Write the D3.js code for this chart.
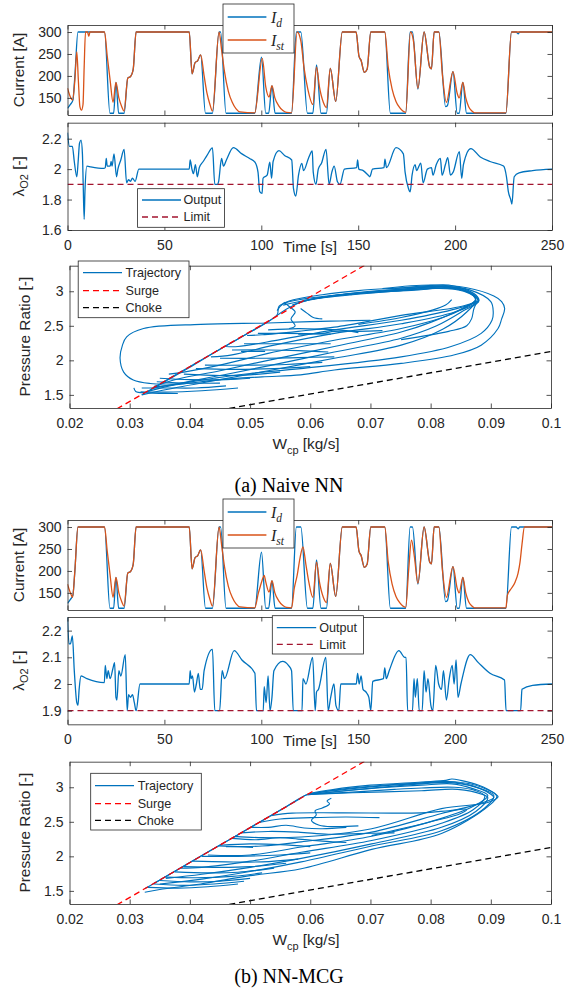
<!DOCTYPE html>
<html><head><meta charset="utf-8">
<script src="https://cdn.jsdelivr.net/npm/d3@7"></script>
<style>body{margin:0;background:#fff}</style>
</head><body><script>
// ---------------- DATA ----------------
const timeTicks = [0, 50, 100, 150, 200, 250];
const currentTicks = [150, 200, 250, 300];
const lambdaTicksA = [1.6, 1.8, 2, 2.2];
const lambdaTicksB = [1.9, 2, 2.1, 2.2];
const wcpTicks = [0.02, 0.03, 0.04, 0.05, 0.06, 0.07, 0.08, 0.09, 0.1];
const prTicks = [1.5, 2, 2.5, 3];
const lambdaLimit = 1.9;

const IdA = [[0,126],[1.5,135],[2.8,145],[3.8,200],[5.4,300],[19.1,300],[21.9,115],[23.8,115],[25,185],[26.4,115],[29.2,115],[31.1,195],[32.4,198],[33.9,215],[35.4,300],[62.8,300],[64.3,205],[65.8,230],[67.2,235],[68.7,248],[71.2,115],[74.8,115],[78.2,300],[79,300],[81.8,115],[96.6,115],[100.1,243],[102.3,115],[103.8,115],[105.5,178],[107.1,115],[115.6,115],[118.1,300],[120.4,300],[123.8,115],[126.6,115],[128.5,225],[130.8,115],[133.6,115],[135.6,217],[138.4,142],[141.8,300],[148.9,300],[150.4,245],[151.5,235],[153.2,208],[154.6,215],[156.5,300],[163.7,300],[166.6,115],[174.5,115],[176.8,300],[178,300],[180.8,170],[184,300],[186.9,220],[187.8,216],[189.2,300],[191.6,300],[195.1,130],[196,132],[198.9,210],[201.1,115],[202.1,115],[204,185],[205.9,115],[226.2,115],[229.1,300],[231.5,300],[232.5,296],[233.4,300],[250,300]];
const IstA = [[0,172],[1.5,152],[2.6,145],[3.8,190],[4.8,255],[5.6,190],[6.4,130],[7.2,122],[8,135],[8.6,220],[9.3,300],[10.3,300],[11,290],[11.6,300],[19.1,300],[20.5,245],[22,190],[23.5,140],[25,185],[26.5,150],[28,130],[29.2,120],[31.1,195],[32.4,198],[33.9,215],[35.4,300],[62.8,300],[64.3,205],[65.8,230],[67.2,235],[68.7,248],[70.5,200],[72,160],[73.5,135],[74.8,120],[78.2,300],[79.5,260],[81,210],[83,165],[85,140],[87,125],[89,118],[96.6,116],[100.5,240],[102.3,175],[104,152],[105.5,178],[107,150],[109,132],[111,122],[113,117],[115.6,116],[118.5,300],[120.4,280],[122,220],[124,170],[126.6,135],[128.5,220],[130,175],[132,140],[133.6,128],[135.6,217],[138.4,142],[141.8,300],[148.9,300],[150.4,245],[151.5,235],[153.2,208],[154.6,215],[156.5,300],[163.7,300],[165.5,220],[167.5,170],[169.5,142],[171.5,127],[174.5,117],[177,300],[178.5,280],[180.8,172],[184,300],[186.9,220],[187.8,216],[189.2,300],[191.6,300],[193.5,200],[195.5,140],[198.9,210],[201.1,160],[202.1,150],[204,185],[205.5,150],[207,130],[208.7,120],[210,116],[226.2,116],[229.1,300],[250,300]];

const IdB = [[0,126],[1.5,135],[2.8,145],[3.8,200],[5.4,300],[19.1,300],[21.9,115],[23.8,115],[25,185],[26.4,115],[29.2,115],[31.1,195],[32.4,198],[33.9,215],[35.4,300],[62.8,300],[64.3,205],[65.8,230],[67.2,235],[68.7,248],[71.2,115],[74.8,115],[78.2,300],[79,300],[81.8,115],[96.6,115],[100.1,243],[102.3,115],[103.8,115],[105.5,178],[107.1,115],[115.6,115],[118.1,300],[120.4,300],[123.8,115],[126.6,115],[128.5,225],[130.8,115],[133.6,115],[135.6,217],[138.4,142],[141.8,300],[148.9,300],[150.4,245],[151.5,235],[153.2,208],[154.6,215],[156.5,300],[163.7,300],[166.6,115],[174.5,115],[176.8,300],[178,300],[180.8,170],[184,300],[186.9,220],[187.8,216],[189.2,300],[191.6,300],[195.1,130],[196,132],[198.9,210],[201.1,115],[202.1,115],[204,185],[205.9,115],[226.2,115],[229.1,300],[231.5,300],[232.5,296],[233.4,300],[250,300]];
const IstB = [[0,170],[1.5,150],[2.6,140],[3.8,200],[5.4,300],[19.1,300],[20.5,245],[22,190],[23.5,140],[25,185],[26.5,150],[28,130],[29.2,120],[31.1,195],[32.4,198],[33.9,215],[35.4,300],[62.8,300],[64.3,205],[65.8,230],[67.2,235],[68.7,248],[70.5,200],[72,160],[73.5,135],[74.8,120],[78.2,300],[79.5,260],[81,210],[83,165],[85,140],[87,125],[89,118],[96.6,116],[98.5,150],[99.5,165],[100.5,180],[101.5,190],[102.3,175],[104,152],[105.5,178],[107,150],[109,132],[111,122],[113,117],[115.6,116],[117,160],[118.5,190],[120,230],[121.5,255],[123,215],[124.5,175],[126.6,140],[128.5,220],[130,175],[132,140],[133.6,128],[135.6,217],[138.4,142],[141.8,300],[148.9,300],[150.4,245],[151.5,235],[153.2,208],[154.6,215],[156.5,300],[163.7,300],[165.5,220],[167.5,170],[169.5,142],[171.5,127],[174.5,117],[176,200],[177.5,270],[179,232],[180.8,172],[184,300],[186.9,220],[187.8,216],[189.2,300],[191.6,300],[193.5,200],[195.5,140],[198.9,210],[201.1,160],[202.1,150],[204,185],[205.5,150],[207,130],[208.7,120],[210,116],[226.2,116],[227,145],[229,160],[231,175],[232.5,195],[233.5,220],[234.5,260],[235.8,300],[250,300]];

const lambdaA = [[0,2.24],[1,2.15],[2.5,2.15],[3.5,2.05],[4.8,1.95],[5.5,2.05],[6.2,2.17],[7,2.19],[7.7,2.1],[8.1,1.9],[8.6,1.67],[9,1.85],[10,2.02],[12,2.015],[18.7,2.005],[19.5,2.01],[20,2.07],[20.5,2.02],[22,2.02],[22.5,2.05],[23,2.02],[24,2.1],[25.3,1.95],[26,2.0],[27.5,2.06],[29.2,2.13],[30.5,1.91],[31.5,1.93],[32.5,1.92],[33.5,1.94],[34.9,1.92],[36.8,2.0],[62.8,2.0],[63.3,2.06],[64.2,2.0],[65,1.97],[66,2.03],[67,1.95],[68,2.01],[70,2.05],[72,2.09],[74.8,2.14],[76,1.9],[77.5,1.9],[78,1.92],[79.5,2.07],[80.5,2.02],[82,2.06],[85.6,2.141],[90,2.1],[94,2.07],[96.8,2.045],[98.3,1.98],[99.2,1.852],[100.4,1.84],[100.9,1.94],[103,1.96],[104.4,2.045],[105.3,1.94],[106.1,2.05],[109.1,2.121],[112,2.09],[115.7,2.06],[116.6,1.874],[117.8,1.823],[119.2,1.96],[120.9,2.038],[121.8,1.99],[124.3,2.07],[126.3,2.119],[126.8,1.98],[128.2,1.9],[129.4,2.0],[131.1,2.04],[133.4,2.13],[135,1.9],[136.4,1.98],[137.6,2.02],[139.3,1.917],[140.6,1.9],[142.9,2.0],[149.2,2.01],[149.7,2.06],[150.3,2.0],[152.6,1.99],[155.2,1.96],[156,1.95],[157.4,2.0],[163.3,2.01],[163.8,2.065],[164.6,2.01],[169.5,2.141],[173.3,2.1],[174.2,1.98],[175.9,1.874],[176.8,1.85],[177.8,1.96],[179.4,2.03],[180.1,1.99],[182.3,2.04],[183.5,1.91],[185.7,2.0],[187.8,2.01],[188.6,1.96],[190.3,2.03],[192.4,2.07],[193.3,1.96],[195,2.03],[196.2,2.075],[197.6,1.96],[199,1.98],[202.2,2.115],[203.4,1.94],[204.3,2.03],[208.1,2.135],[213,2.08],[218,2.05],[225,2.02],[226.5,1.95],[227.5,1.85],[228.7,1.8],[229.3,1.77],[230.5,1.95],[233,1.975],[240,1.99],[250,2.0]];
const lambdaB = [[0,2.25],[0.8,2.15],[1.5,2.15],[2.5,2.18],[3.5,2.05],[4.8,1.93],[5.4,1.92],[6,1.98],[7,2.03],[10,2.02],[19,2.005],[19.5,2.07],[20.3,2.02],[21,2.05],[22,2.02],[23.5,2.06],[24.3,2.08],[25,1.95],[25.5,1.94],[26.5,2.05],[27.5,2.03],[29.8,2.11],[30.8,1.9],[31.5,1.96],[32.5,1.95],[33.5,1.96],[34.5,1.93],[35.4,1.9],[37.4,2.0],[62.8,2.0],[63.3,2.05],[63.8,2.02],[64.5,2.03],[65.5,1.97],[66.5,2.0],[67.5,2.04],[68.5,1.98],[69.5,1.98],[70.5,2.05],[74.8,2.13],[76,1.9],[78.5,1.9],[79.8,2.05],[81,2.02],[86,2.125],[90,2.09],[96.7,2.04],[97.5,1.9],[101,1.9],[101.5,1.99],[102.5,1.93],[103.5,2.03],[104.5,1.9],[105.5,1.95],[106.5,2.05],[111,2.085],[114,2.07],[115.6,2.05],[116.5,1.9],[121,1.9],[121.5,2.02],[123,2.0],[126.5,2.1],[127.8,1.9],[128.5,1.97],[129.5,1.98],[133.3,2.1],[134.5,1.9],[135.8,1.95],[137.5,2.0],[138.5,1.92],[140,1.9],[141,2.0],[149,2.0],[149.7,2.04],[150.5,2.0],[151.5,2.03],[152.5,1.98],[154,1.97],[155.5,1.95],[156.5,1.9],[157.5,2.01],[163,2.02],[163.7,2.06],[164.5,2.02],[166,2.05],[171,2.125],[174,2.1],[174.7,2.1],[175.5,1.9],[178,1.9],[178.8,2.02],[179.5,1.95],[180.5,2.02],[181.5,1.9],[183,1.9],[184,2.05],[185,1.97],[186,2.02],[187.5,1.92],[188.5,1.9],[190,2.07],[191.5,2.0],[193,1.98],[194,2.05],[195.5,1.94],[197,2.02],[198.5,2.07],[199.5,2.0],[200.5,2.09],[201.5,1.95],[203,2.0],[207.8,2.11],[212,2.08],[218,2.04],[225.5,2.015],[226.3,1.9],[233.8,1.9],[234.5,1.98],[240,1.995],[250,2.0]];

// surge / choke lines (W [kg/s], pressure ratio)
const surgeLine = [[0.025,1.1525],[0.072,3.526]];
const chokeLine = [[0.04,1.204],[0.1,2.128]];

// compressor trajectory, naive NN: main cycles (ascent, top arc, return)
const trajA_cycles = [
 [[0.032,1.5],[0.036,1.7],[0.04,1.9],[0.044,2.11],[0.048,2.31],[0.052,2.51],[0.0545,2.66],[0.0548,2.78],[0.0565,2.86],[0.062,2.95],[0.068,3.01],[0.075,3.05],[0.083,3.09],[0.086,3.02],[0.0878,2.92],[0.088,2.87],[0.085,2.78],[0.0751,2.65],[0.064,2.48],[0.058,2.42],[0.052,2.37],[0.0495,2.36]],
 [[0.033,1.55],[0.037,1.76],[0.041,1.96],[0.045,2.16],[0.049,2.36],[0.053,2.56],[0.056,2.74],[0.059,2.86],[0.064,2.94],[0.07,3.0],[0.077,3.04],[0.0825,3.07],[0.086,3.0],[0.0875,2.9],[0.087,2.83],[0.0835,2.73],[0.0751,2.58],[0.064,2.44],[0.055,2.3],[0.048,2.2],[0.046,2.2]],
 [[0.0545,2.72],[0.0555,2.82],[0.059,2.89],[0.065,2.95],[0.072,3.0],[0.08,3.04],[0.0845,3.03],[0.0875,2.93],[0.088,2.86],[0.084,2.7],[0.0751,2.53],[0.064,2.39],[0.054,2.22],[0.047,2.08],[0.0435,2.05]],
 [[0.057,2.8],[0.061,2.9],[0.068,2.97],[0.076,3.02],[0.083,3.06],[0.0865,2.98],[0.0878,2.88],[0.0855,2.75],[0.082,2.62],[0.0751,2.46],[0.064,2.29],[0.053,2.1],[0.045,1.93],[0.039,1.83],[0.0365,1.8]],
 [[0.058,2.84],[0.063,2.92],[0.07,2.98],[0.078,3.02],[0.083,3.05],[0.0868,2.96],[0.0875,2.88],[0.085,2.74],[0.08,2.55],[0.0751,2.41],[0.064,2.2],[0.053,2.0],[0.045,1.85],[0.038,1.73],[0.034,1.62]],
 [[0.0555,2.8],[0.06,2.88],[0.067,2.95],[0.074,3.0],[0.081,3.04],[0.0855,3.0],[0.088,2.86],[0.0855,2.72],[0.081,2.5],[0.0751,2.32],[0.064,2.12],[0.053,1.92],[0.045,1.78],[0.038,1.66],[0.033,1.55]],
 [[0.059,2.87],[0.066,2.96],[0.074,3.02],[0.082,3.07],[0.086,3.0],[0.0875,2.87],[0.086,2.7],[0.082,2.45],[0.0751,2.22],[0.064,2.03],[0.053,1.85],[0.045,1.72],[0.038,1.61],[0.032,1.5]],
 [[0.074,3.04],[0.082,3.07],[0.0865,3.02],[0.09,2.85],[0.0904,2.7],[0.0902,2.58],[0.0884,2.39],[0.0834,2.2],[0.0751,2.05],[0.0584,1.88],[0.05,1.81],[0.044,1.74],[0.038,1.66],[0.034,1.6]],
 [[0.072,3.04],[0.08,3.09],[0.086,3.05],[0.0905,2.93],[0.0918,2.85],[0.0923,2.75],[0.0918,2.6],[0.0912,2.46],[0.0884,2.22],[0.084,2.08],[0.0751,1.955],[0.064,1.86],[0.0584,1.79],[0.052,1.76],[0.045,1.72],[0.039,1.66],[0.0345,1.62]],
 [[0.038,1.66],[0.0334,1.665],[0.0306,1.715],[0.029,1.83],[0.0284,2.03],[0.0288,2.22],[0.0295,2.34],[0.0323,2.46],[0.0418,2.52],[0.0529,2.54],[0.06,2.56],[0.065,2.57],[0.07,2.58]]
];
// naive NN: inner excursions
const trajA_inner = [
 [[0.0878,2.86],[0.0872,2.75],[0.0868,2.6],[0.086,2.5],[0.083,2.42],[0.0751,2.3]],
 [[0.0835,2.88],[0.0825,2.8],[0.08,2.72],[0.0751,2.62],[0.068,2.52]],
 [[0.0556,2.84],[0.0565,2.78],[0.0575,2.7],[0.0568,2.6],[0.0575,2.5],[0.0565,2.46]],
 [[0.0584,2.75],[0.0595,2.68],[0.0605,2.62],[0.062,2.6]],
 [[0.053,2.44],[0.058,2.46],[0.062,2.45],[0.066,2.43],[0.068,2.4]],
 [[0.058,2.38],[0.062,2.39],[0.064,2.42],[0.068,2.42],[0.072,2.43]],
 [[0.0513,2.39],[0.056,2.39],[0.0634,2.38]],
 [[0.049,2.24],[0.055,2.24],[0.0634,2.24]],
 [[0.047,2.15],[0.053,2.15],[0.058,2.14],[0.063,2.12]],
 [[0.0485,2.13],[0.0508,2.13],[0.0525,2.13]],
 [[0.045,2.03],[0.052,2.03],[0.058,2.04],[0.064,2.05]],
 [[0.0425,1.93],[0.05,1.93],[0.056,1.94],[0.062,1.97]],
 [[0.041,1.88],[0.047,1.87],[0.054,1.88],[0.06,1.91]],
 [[0.039,1.8],[0.045,1.78],[0.05,1.79],[0.055,1.83]],
 [[0.035,1.74],[0.04,1.72],[0.046,1.72],[0.05,1.74]],
 [[0.0345,1.69],[0.04,1.67],[0.045,1.67]],
 [[0.032,1.6],[0.036,1.6],[0.041,1.6],[0.046,1.63]],
 [[0.0318,1.545],[0.036,1.54],[0.042,1.56],[0.048,1.6]],
 [[0.0307,1.6],[0.031,1.55],[0.033,1.53],[0.038,1.52]]
];

// compressor trajectory, NN-MCG: main cycles
const trajB_cycles = [
 [[0.0325,1.53],[0.036,1.708],[0.04,1.91],[0.044,2.112],[0.048,2.314],[0.052,2.516],[0.056,2.718],[0.0595,2.895],[0.064,2.97],[0.07,3.03],[0.0785,3.076],[0.0825,3.1],[0.0835,3.12],[0.085,3.1],[0.088,3.03],[0.0905,2.92],[0.0912,2.86],[0.0895,2.78],[0.0818,2.69],[0.0702,2.40],[0.0585,2.28],[0.052,2.27],[0.0475,2.29]],
 [[0.034,1.607],[0.038,1.809],[0.042,2.011],[0.046,2.213],[0.05,2.415],[0.054,2.617],[0.058,2.819],[0.0595,2.895],[0.065,2.96],[0.072,3.02],[0.0785,3.06],[0.083,3.08],[0.087,3.02],[0.09,2.9],[0.0905,2.85],[0.088,2.76],[0.0818,2.62],[0.0702,2.35],[0.0585,2.21],[0.052,2.15],[0.046,2.14]],
 [[0.0595,2.89],[0.066,2.95],[0.073,3.0],[0.0785,3.03],[0.0835,3.05],[0.087,2.98],[0.0895,2.88],[0.087,2.72],[0.0818,2.55],[0.0702,2.29],[0.0585,2.135],[0.05,2.02],[0.043,2.02]],
 [[0.0595,2.895],[0.067,2.93],[0.074,2.97],[0.0785,2.99],[0.084,3.0],[0.0875,2.95],[0.089,2.87],[0.087,2.67],[0.0818,2.48],[0.0702,2.23],[0.0585,2.06],[0.05,1.93],[0.042,1.84],[0.0385,1.83]],
 [[0.0595,2.895],[0.067,2.92],[0.0785,2.95],[0.0845,2.97],[0.0885,2.9],[0.0895,2.85],[0.0875,2.65],[0.0818,2.42],[0.0702,2.18],[0.0585,1.97],[0.05,1.84],[0.042,1.74],[0.036,1.68]],
 [[0.0595,2.895],[0.068,2.97],[0.0785,3.05],[0.083,3.07],[0.0875,3.0],[0.0905,2.88],[0.089,2.7],[0.0818,2.37],[0.0702,2.15],[0.0585,1.92],[0.05,1.78],[0.042,1.67],[0.035,1.6]],
 [[0.0595,2.895],[0.066,2.98],[0.0785,3.065],[0.084,3.08],[0.0885,3.0],[0.091,2.87],[0.0895,2.72],[0.0818,2.33],[0.0702,2.1],[0.0585,1.82],[0.05,1.72],[0.0418,1.6],[0.035,1.52],[0.0325,1.48]]
];
// NN-MCG: inner excursions
const trajB_inner = [
 [[0.0535,2.59],[0.057,2.625],[0.065,2.63],[0.0785,2.63],[0.083,2.66],[0.086,2.68],[0.085,2.62],[0.08,2.5],[0.0702,2.3]],
 [[0.0635,2.84],[0.0628,2.8],[0.0632,2.76],[0.062,2.7],[0.0608,2.66],[0.061,2.6],[0.0602,2.52],[0.0615,2.45],[0.064,2.43],[0.068,2.44]],
 [[0.0515,2.49],[0.055,2.54],[0.06,2.56],[0.066,2.57],[0.0715,2.56]],
 [[0.0502,2.42],[0.053,2.42],[0.056,2.45],[0.059,2.41],[0.062,2.4],[0.066,2.42]],
 [[0.0485,2.34],[0.053,2.36],[0.058,2.35],[0.063,2.32],[0.068,2.33],[0.074,2.34]],
 [[0.047,2.26],[0.051,2.24],[0.055,2.27],[0.058,2.25],[0.062,2.22],[0.066,2.2]],
 [[0.0448,2.15],[0.048,2.14],[0.0505,2.13]],
 [[0.045,2.16],[0.05,2.18],[0.055,2.17],[0.06,2.14]],
 [[0.042,2.0],[0.048,2.0],[0.055,2.02],[0.06,2.05]],
 [[0.0405,1.93],[0.046,1.92],[0.052,1.92],[0.058,1.96]],
 [[0.039,1.85],[0.045,1.84],[0.05,1.85],[0.056,1.9]],
 [[0.0375,1.775],[0.043,1.76],[0.048,1.77],[0.054,1.83]],
 [[0.036,1.7],[0.041,1.69],[0.047,1.71],[0.052,1.76]],
 [[0.035,1.65],[0.04,1.63],[0.045,1.64],[0.05,1.68]],
 [[0.034,1.6],[0.039,1.58],[0.044,1.6],[0.049,1.64]],
 [[0.033,1.55],[0.038,1.54],[0.043,1.56],[0.048,1.6]]
];

// ---------------- DRAWING ----------------
const AX = '#262626', BLUE = '#0072BD', ORANGE = '#D95319', LIMITC = '#A2142F';
const SANS = '"Liberation Sans", Arial, Helvetica, sans-serif';
const SERIF = '"Liberation Serif", "Times New Roman", serif';
const svg = d3.select('body').append('svg').attr('width', 579).attr('height', 992)
  .style('font-family', SANS);

let clipN = 0;
function makeAxes(o) {
  const x = d3.scaleLinear().domain(o.xd).range([o.x0, o.x1]);
  const y = d3.scaleLinear().domain(o.yd).range([o.y1, o.y0]);
  const id = 'clip' + (clipN++);
  svg.append('clipPath').attr('id', id).append('rect')
    .attr('x', o.x0).attr('y', o.y0).attr('width', o.x1 - o.x0).attr('height', o.y1 - o.y0);
  const plot = svg.append('g').attr('clip-path', `url(#${id})`);
  const tl = 4.5;
  const fmt = o.fmt || (d => String(d));
  const axes = svg.append('g');
  axes.append('g').attr('transform', `translate(0,${o.y1})`)
    .call(d3.axisBottom(x).tickValues(o.xticks).tickSizeInner(-tl).tickSizeOuter(0).tickPadding(10)
      .tickFormat(o.xlabels ? (o.xfmt || (d => String(d))) : () => ''));
  axes.append('g').attr('transform', `translate(0,${o.y0})`)
    .call(d3.axisTop(x).tickValues(o.xticks).tickSizeInner(-tl).tickSizeOuter(0).tickFormat(() => ''));
  axes.append('g').attr('transform', `translate(${o.x0},0)`)
    .call(d3.axisLeft(y).tickValues(o.yticks).tickSizeInner(-tl).tickSizeOuter(0).tickPadding(6).tickFormat(fmt));
  axes.append('g').attr('transform', `translate(${o.x1},0)`)
    .call(d3.axisRight(y).tickValues(o.yticks).tickSizeInner(-tl).tickSizeOuter(0).tickFormat(() => ''));
  axes.selectAll('.domain').attr('stroke', AX).attr('stroke-width', 0.8);
  axes.selectAll('.tick line').attr('stroke', AX).attr('stroke-width', 0.8);
  axes.selectAll('.tick text').attr('fill', AX).style('font-size', '14px').style('font-family', SANS);
  return {x, y, plot, axes};
}

function legend(o) {
  const g = svg.append('g');
  g.append('rect').attr('x', o.x).attr('y', o.y).attr('width', o.w).attr('height', o.h)
    .attr('fill', '#fff').attr('stroke', AX).attr('stroke-width', 0.8);
  o.items.forEach((it, i) => {
    const yy = o.ys[i];
    g.append('line').attr('x1', o.lx1).attr('x2', o.lx2).attr('y1', yy).attr('y2', yy)
      .attr('stroke', it.color).attr('stroke-width', 1.3).attr('stroke-dasharray', it.dash || null);
    const t = g.append('text').attr('x', o.tx).attr('y', yy).attr('dy', '0.35em').attr('fill', AX);
    if (it.math) {
      t.style('font-family', SERIF).style('font-size', '16px').style('font-style', 'italic');
      t.append('tspan').text(it.math[0]);
      t.append('tspan').text(it.math[1]).style('font-size', '11.5px').attr('dy', '4');
    } else {
      t.style('font-size', '12.6px').text(it.label);
    }
  });
}

function ylabel(x, y, parts) {
  const t = svg.append('text').attr('transform', `translate(${x},${y}) rotate(-90)`)
    .attr('text-anchor', 'middle').attr('fill', AX).style('font-size', '15.4px');
  parts.forEach(p => {
    const s = t.append('tspan').text(p.t);
    if (p.sub) s.style('font-size', '11px').attr('dy', 4);
    if (p.up) s.attr('dy', -4);
  });
}

function timeLine(ax, data, color, width, dash, curve) {
  ax.plot.append('path').datum(data)
    .attr('d', d3.line().x(d => ax.x(d[0])).y(d => ax.y(d[1])).curve(curve || d3.curveLinear))
    .attr('fill', 'none').attr('stroke', color).attr('stroke-width', width)
    .attr('stroke-linejoin', 'round').attr('stroke-dasharray', dash || null);
}

function trajLines(ax, sets) {
  const gen = d3.line().x(d => ax.x(d[0])).y(d => ax.y(d[1])).curve(d3.curveCatmullRom.alpha(0.5));
  sets.forEach(set => set.forEach(pl => {
    ax.plot.append('path').datum(pl).attr('d', gen)
      .attr('fill', 'none').attr('stroke', BLUE).attr('stroke-width', 1.15);
  }));
}

function drawPanelSet(c) {
  // current
  const cur = makeAxes({x0: 67.5, x1: 552, y0: c.cy0, y1: c.cy0 + 90, xd: [0, 250], yd: [111, 316],
    xticks: timeTicks, yticks: currentTicks, xlabels: false});
  timeLine(cur, c.Id, BLUE, 1.3, null, d3.curveMonotoneX);
  timeLine(cur, c.Ist, ORANGE, 1.3, null, d3.curveMonotoneX);
  ylabel(24, c.cy0 + 45, [{t: 'Current [A]'}]);
  legend({x: 223, y: c.cy0 - 21, w: 71, h: 49, lx1: 227.7, lx2: 266.4, tx: 271, ys: [c.cy0 - 8, c.cy0 + 15],
    items: [{color: BLUE, math: ['I', 'd']}, {color: ORANGE, math: ['I', 'st']}]});

  // lambda
  const lam = makeAxes({x0: 67.5, x1: 552, y0: c.ly0, y1: c.ly1, xd: [0, 250], yd: c.lyd,
    xticks: timeTicks, yticks: c.lticks, xlabels: true});
  timeLine(lam, c.lambda, BLUE, 1.3, null, d3.curveMonotoneX);
  timeLine(lam, [[0, lambdaLimit], [250, lambdaLimit]], LIMITC, 1.3, '6,4');
  ylabel(24, (c.ly0 + c.ly1) / 2, [{t: 'λ'}, {t: 'O2', sub: true}, {t: ' [-]', up: true}]);
  svg.append('text').attr('x', 310).attr('y', c.ly1 + 21.5).attr('text-anchor', 'middle')
    .attr('fill', AX).style('font-size', '15.4px').text('Time [s]');
  legend(Object.assign({items: [{color: BLUE, label: 'Output'}, {color: LIMITC, label: 'Limit', dash: '6,4'}]}, c.lleg));

  // pressure ratio
  const pr = makeAxes({x0: 69.5, x1: 551, y0: c.py0, y1: c.py0 + 142.3, xd: [0.02, 0.1], yd: [1.31, 3.37],
    xticks: wcpTicks, yticks: prTicks, xlabels: true, xfmt: d => String(+d.toFixed(2))});
  trajLines(pr, c.traj);
  timeLine(pr, surgeLine, '#FF0000', 1.3, '6,4');
  timeLine(pr, chokeLine, '#000000', 1.3, '6,4');
  ylabel(29.5, c.py0 + 71, [{t: 'Pressure Ratio [-]'}]);
  const wl = svg.append('text').attr('x', 306).attr('y', c.py0 + 183).attr('text-anchor', 'middle')
    .attr('fill', AX).style('font-size', '15.4px');
  wl.append('tspan').text('W');
  wl.append('tspan').text('cp').style('font-size', '11px').attr('dy', 5);
  wl.append('tspan').text(' [kg/s]').attr('dy', -5);
  legend(Object.assign({items: [{color: BLUE, label: 'Trajectory'}, {color: '#FF0000', label: 'Surge', dash: '6,4'},
    {color: '#000000', label: 'Choke', dash: '6,4'}]}, c.pleg));

  svg.append('text').attr('x', 289).attr('y', c.cap).attr('text-anchor', 'middle')
    .style('font-family', SERIF).style('font-size', '20px').attr('fill', '#000').text(c.caption);
}

drawPanelSet({cy0: 25, Id: IdA, Ist: IstA, ly0: 122.7, ly1: 230, lyd: [1.6, 2.305], lticks: lambdaTicksA,
  lambda: lambdaA,
  lleg: {x: 137.6, y: 188.7, w: 86.8, h: 38.6, lx1: 142, lx2: 181, tx: 183.5, ys: [200, 217]},
  py0: 265.7, traj: [trajA_cycles, trajA_inner],
  pleg: {x: 78.2, y: 261, w: 110.8, h: 56.7, lx1: 83, lx2: 122, tx: 125.5, ys: [272.7, 290.7, 307.7]},
  cap: 492, caption: '(a) Naive NN'});

drawPanelSet({cy0: 520, Id: IdB, Ist: IstB, ly0: 617, ly1: 724.3, lyd: [1.849, 2.251], lticks: lambdaTicksB,
  lambda: lambdaB,
  lleg: {x: 272.3, y: 615.7, w: 91.2, h: 38.3, lx1: 276.8, lx2: 316.2, tx: 319.2, ys: [627.7, 644.3]},
  py0: 761.7, traj: [trajB_cycles, trajB_inner],
  pleg: {x: 90.7, y: 773.3, w: 110.6, h: 56.7, lx1: 95, lx2: 134, tx: 137.7, ys: [785.7, 803.7, 820.3]},
  cap: 983, caption: '(b) NN-MCG'});
</script></body></html>
